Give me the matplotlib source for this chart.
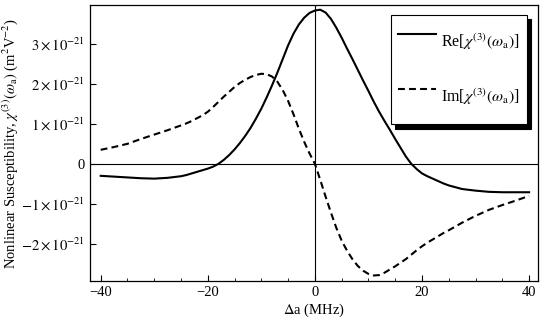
import matplotlib
matplotlib.use("Agg")
import matplotlib.pyplot as plt
from matplotlib.ticker import MultipleLocator, FixedLocator

plt.rcParams['font.family'] = ['Liberation Serif', 'DejaVu Serif']
plt.rcParams['mathtext.fontset'] = 'stix'
plt.rcParams['font.size'] = 10.5

# detuning (MHz)
detuning = [-40, -37.5, -35, -32.5, -30, -27.5,
            -25, -24, -23, -22, -21, -20, -19, -18, -17, -16, -15, -14, -13, -12, -11, -10,
            -9, -8, -7, -6, -5, -4, -3, -2, -1,
            0, 1, 2, 3, 4, 5, 6, 7, 8, 9, 10, 11, 12, 13, 14, 15, 16, 17, 18, 19, 20,
            21, 22, 23, 24, 25, 27.5, 30, 32.5, 35, 37.5, 40]

# units of 1e-21 m^2 V^-2
re_chi = [-0.30, -0.32, -0.34, -0.36, -0.37, -0.35,
          -0.31, -0.28, -0.24, -0.20, -0.16, -0.12, -0.07, 0.00, 0.10, 0.22, 0.36, 0.52, 0.70, 0.90, 1.13, 1.38,
          1.66, 1.96, 2.28, 2.62, 2.96, 3.25, 3.48, 3.65, 3.77,
          3.83, 3.85, 3.78, 3.62, 3.40, 3.15, 2.88, 2.62, 2.35, 2.08, 1.82, 1.55, 1.30, 1.07, 0.85, 0.62, 0.40, 0.18, 0.00, -0.13, -0.24,
          -0.31, -0.37, -0.43, -0.49, -0.54, -0.63, -0.67, -0.70, -0.71, -0.71, -0.71]

im_chi = [0.35, 0.42, 0.50, 0.62, 0.73, 0.84,
          0.96, 1.01, 1.07, 1.14, 1.21, 1.30, 1.42, 1.55, 1.68, 1.80, 1.92, 2.02, 2.10, 2.17, 2.22, 2.25,
          2.24, 2.18, 2.05, 1.84, 1.57, 1.24, 0.88, 0.55, 0.26,
          0.0, -0.40, -0.82, -1.22, -1.60, -1.92, -2.17, -2.38, -2.55, -2.67, -2.75, -2.79, -2.78, -2.72, -2.64, -2.56, -2.47, -2.38, -2.27, -2.16, -2.06,
          -1.97, -1.89, -1.81, -1.73, -1.66, -1.47, -1.30, -1.15, -1.03, -0.92, -0.80]

ytick_vals = [-2, -1, 0, 1, 2, 3]
ytick_labels = [r'$-2\times10^{-21}$', r'$-1\times10^{-21}$', '0',
                r'$1\times10^{-21}$', r'$2\times10^{-21}$', r'$3\times10^{-21}$']

fig = plt.figure(figsize=(5.42, 3.28), dpi=100)
ax = fig.add_axes([0.166, 0.143, 0.827, 0.842])

ax.axhline(0, color='k', lw=0.8, zorder=1)
ax.axvline(0, color='k', lw=0.8, zorder=1)

ax.plot(detuning, re_chi, color='k', lw=1.5, label=r'Re[$\chi^{(3)}(\omega_{\mathrm{a}})$]')
ax.plot(detuning, im_chi, color='k', lw=1.5, dashes=(3.3, 2),
        label=r'Im[$\chi^{(3)}(\omega_{\mathrm{a}})$]')

ax.set_xlim(-42, 41.7)
ax.set_ylim(-2.93, 3.97)
ax.xaxis.set_major_locator(MultipleLocator(20))
ax.xaxis.set_minor_locator(MultipleLocator(5))
ax.yaxis.set_major_locator(FixedLocator(ytick_vals))
ax.set_yticklabels(ytick_labels)
ax.tick_params(direction='in', which='both', top=False, right=False)
ax.tick_params(which='major', length=4)
ax.tick_params(which='minor', length=2.5)

ax.set_xlabel(r'$\Delta$a (MHz)', labelpad=2)
ax.set_ylabel(r'Nonlinear Susceptibility, $\chi^{(3)}(\omega_{\mathrm{a}})$ (m$^2$V$^{-2}$)', labelpad=1)

for s in ax.spines.values():
    s.set_linewidth(0.9)

leg = ax.legend(loc='upper right', bbox_to_anchor=(0.975, 0.964), borderaxespad=0,
                fontsize=11.5, fancybox=False, edgecolor='k', framealpha=1,
                labelspacing=0.94, borderpad=0.46, handlelength=2.38,
                handleheight=3.47, handletextpad=0.31,
                shadow={'color': 'k', 'alpha': 1, 'ox': 3, 'oy': -3})
leg.get_frame().set_linewidth(0.8)

fig.savefig('out.png', dpi=100)
